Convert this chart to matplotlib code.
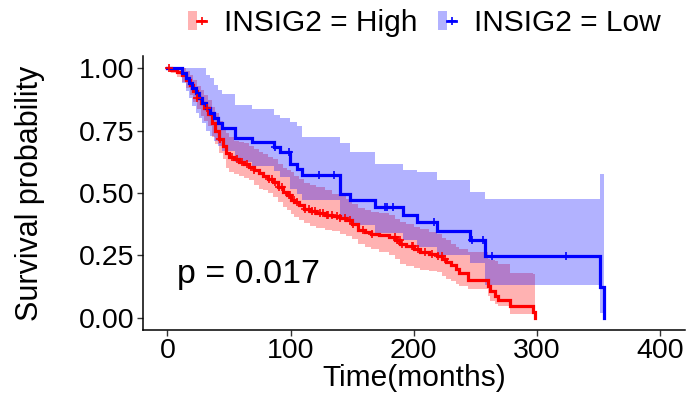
import numpy as np
import matplotlib
matplotlib.use('Agg')
import matplotlib.pyplot as plt
from matplotlib.patches import Patch
from matplotlib.lines import Line2D
from matplotlib.legend_handler import HandlerTuple

plt.rcParams['font.family'] = ['Liberation Sans', 'DejaVu Sans']

# ---------------- data ----------------
high_label = "INSIG2 = High"
low_label = "INSIG2 = Low"
pval_text = "p = 0.017"

red_time = [0, 3, 8, 12, 15, 18, 21, 24, 27, 30,
            33, 36, 39, 42, 45, 48, 50, 54, 58, 62,
            66, 70, 74, 78, 82, 86, 90, 94, 97, 100,
            103, 107, 111, 116, 121, 128, 134, 140, 145, 150,
            155, 160, 165, 172, 180, 185, 189, 194, 200, 205,
            212, 219, 223, 226, 230, 234, 237, 244, 260, 262,
            266, 268, 278, 296.6, 298]
red_surv = [1, .993, .986, .973, .955, .935, .91, .88, .86, .84,
            .815, .78, .75, .715, .69, .66, .645, .635, .625, .615,
            .605, .593, .58, .568, .557, .545, .525, .505, .49, .472,
            .462, .45, .437, .428, .42, .413, .408, .398, .39, .375,
            .352, .343, .337, .33, .323, .31, .296, .287, .276, .263,
            .256, .245, .236, .222, .21, .195, .18, .152, .125, .105,
            .088, .07, .045, .021, 0]
red_upper = [1, 1, 1, 1, .99, .975, .955, .93, .915, .895,
             .875, .845, .82, .79, .765, .74, .725, .71, .705, .70,
             .69, .675, .665, .655, .645, .635, .615, .60, .592, .584,
             .57, .555, .54, .532, .525, .51, .497, .487, .475, .457,
             .44, .432, .425, .418, .41, .395, .383, .375, .365, .355,
             .345, .335, .32, .31, .295, .285, .276, .265, .236, .23,
             .225, .216, .18, .176, 0]
red_lower = [1, .98, .965, .945, .92, .895, .865, .835, .81, .79,
             .77, .725, .695, .66, .635, .60, .585, .575, .57, .56,
             .55, .53, .515, .51, .50, .485, .465, .445, .43, .415,
             .405, .39, .378, .368, .36, .352, .347, .336, .328, .315,
             .295, .285, .275, .262, .25, .235, .215, .205, .198, .19,
             .185, .182, .165, .155, .145, .135, .128, .115, .085, .065,
             .055, .045, .015, .015, 0]
red_censor = [1.3, 24.3, 32.4, 43, 52.6, 56.6, 60.6, 64.7, 70, 82.2,
              85, 87.6, 90.3, 93, 98.4, 99.8, 102.5, 105.2, 111.9, 114.6,
              117.3, 120, 124, 126.7, 129.4, 130.7, 133.5, 137.5, 140.2, 144.3,
              148.3, 151, 159, 165.8, 184.7, 186, 187.4, 188.8, 190.1, 198.2,
              199.5, 203.6, 209, 214.4, 219.7, 222.5, 225.2]

blue_time = [0, 12, 15, 17.5, 20, 23, 26, 28.5, 31.5, 34.5,
             37.5, 41, 44.5, 55.3, 68.8, 86.2, 91.7, 99.8, 105.2, 109.2,
             140.2, 148.3, 168.5, 191.4, 202.3, 218.4, 245.4, 257.5, 350.7, 354.6]
blue_surv = [1, .98, .96, .94, .92, .90, .88, .86, .84, .82,
             .80, .78, .76, .72, .705, .685, .665, .618, .598, .571,
             .497, .470, .443, .410, .383, .349, .310, .245, .122, 0]
blue_upper = [1, 1, 1, 1, 1, 1, 1, 1, .973, .96,
              .933, .915, .899, .852, .835, .812, .80, .785, .77, .725,
              .70, .665, .618, .591, .585, .55, .505, .477, .578, 0]
blue_lower = [1, .94, .91, .88, .85, .82, .80, .78, .75, .73,
              .71, .69, .67, .625, .61, .59, .565, .515, .495, .47,
              .395, .37, .34, .31, .285, .25, .22, .129, .02, 0]
blue_censor = [87.6, 98.4, 122.7, 135, 176.6, 178, 183.3, 216.5, 246.8, 256.2,
               263.8, 323.3]

x_ticks = [0, 100, 200, 300, 400]
y_ticks = [0.00, 0.25, 0.50, 0.75, 1.00]
y_ticklabels = ["0.00", "0.25", "0.50", "0.75", "1.00"]

RED = '#FF0000'
BLUE = '#0000FF'

# ---------------- figure ----------------
fig = plt.figure(figsize=(6.88, 3.98), dpi=100)
ax = fig.add_axes([0.2074, 0.1709, 0.7882, 0.6886])


def band(t, lo, hi, color):
    ax.fill_between(t, lo, hi, step='post', color=color, alpha=0.3, lw=0)


def curve(t, s, color):
    ax.step(t, s, where='post', color=color, lw=2.3, solid_joinstyle='miter')


def censor(t, s, ct, color):
    t = np.asarray(t)
    s = np.asarray(s)
    idx = np.searchsorted(t, ct, side='right') - 1
    ax.plot(ct, s[idx], ls='none', marker='+', ms=6, mew=1.2, color=color)


band(red_time, red_lower, red_upper, RED)
band(blue_time, blue_lower, blue_upper, BLUE)
curve(red_time, red_surv, RED)
curve(blue_time, blue_surv, BLUE)
censor(red_time, red_surv, red_censor, RED)
censor(blue_time, blue_surv, blue_censor, BLUE)

ax.text(8, 0.14, pval_text, fontsize=24.5, ha='left', va='baseline')

ax.set_xlim(-20, 420)
ax.set_ylim(-0.05, 1.05)
ax.set_xticks(x_ticks)
ax.set_xticklabels([str(v) for v in x_ticks])
ax.set_yticks(y_ticks)
ax.set_yticklabels(y_ticklabels)
for sp in ['top', 'right']:
    ax.spines[sp].set_visible(False)
for sp in ['left', 'bottom']:
    ax.spines[sp].set_linewidth(1.1)
    ax.spines[sp].set_color('black')
ax.tick_params(axis='both', labelsize=20.5, length=4, width=1.0,
               color='#333333', pad=2, labelcolor='black')
ax.set_xlabel('Time(months)', fontsize=21.5, labelpad=0)
ax.set_ylabel('Survival probability', fontsize=22, labelpad=24)

h_high = (Patch(facecolor=RED, alpha=0.3, edgecolor='none'),
          Line2D([], [], color=RED, lw=2, marker='+', ms=6, mew=1.2))
h_low = (Patch(facecolor=BLUE, alpha=0.3, edgecolor='none'),
         Line2D([], [], color=BLUE, lw=2, marker='+', ms=6, mew=1.2))
fig.legend([h_high, h_low], [high_label, low_label],
           handler_map={tuple: HandlerTuple(ndivide=None, pad=0)},
           loc='center', bbox_to_anchor=(0.617, 0.943), ncol=2, frameon=False,
           fontsize=21.5, handlelength=0.6, handleheight=0.6,
           handletextpad=0.6, columnspacing=0.7, borderaxespad=0, borderpad=0)

fig.savefig('out.png', dpi=100)
